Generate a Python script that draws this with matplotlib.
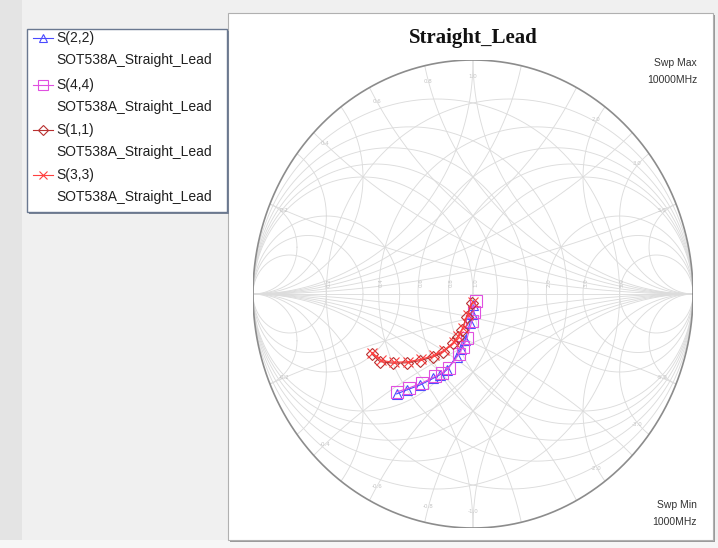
import numpy as np
import matplotlib.pyplot as plt
from matplotlib.patches import Rectangle, Circle

# ---- data (reflection coefficient, real / imag) ----
trace_names = ['S(2,2)', 'S(4,4)', 'S(1,1)', 'S(3,3)']
source_name = 'SOT538A_Straight_Lead'

s22_re = [0.001, -0.006, -0.014, -0.036, -0.055, -0.074, -0.120, -0.150, -0.180, -0.241, -0.301, -0.347]
s22_im = [-0.047, -0.086, -0.125, -0.197, -0.235, -0.268, -0.325, -0.345, -0.360, -0.389, -0.410, -0.427]

s44_re = [0.012, 0.004, -0.004, -0.026, -0.045, -0.064, -0.110, -0.140, -0.172, -0.232, -0.292, -0.345]
s44_im = [-0.030, -0.075, -0.114, -0.186, -0.226, -0.258, -0.315, -0.336, -0.352, -0.380, -0.402, -0.418]

s11_re = [-0.006, -0.029, -0.051, -0.070, -0.090, -0.135, -0.180, -0.241, -0.301, -0.362, -0.423, -0.460]
s11_im = [-0.040, -0.097, -0.154, -0.185, -0.211, -0.247, -0.268, -0.285, -0.294, -0.296, -0.289, -0.256]

s33_re = [-0.002, -0.024, -0.046, -0.066, -0.086, -0.130, -0.176, -0.236, -0.296, -0.357, -0.418, -0.458]
s33_im = [-0.034, -0.090, -0.146, -0.178, -0.204, -0.240, -0.262, -0.279, -0.289, -0.292, -0.284, -0.250]

grid_vals = [0.2, 0.4, 0.6, 0.8, 1.0, 2.0, 3.0, 5.0]

W, H = 718, 548
fig = plt.figure(figsize=(W / 100, H / 100), dpi=100)
fig.patch.set_facecolor('#f0f0f0')

# background / panels, drawn in pixel coordinates
bg = fig.add_axes([0, 0, 1, 1])
bg.set_xlim(0, W)
bg.set_ylim(H, 0)
bg.axis('off')
bg.add_patch(Rectangle((0, 0), 22, 540, facecolor='#e4e4e4', edgecolor='none'))
bg.add_patch(Rectangle((0, 540), W, 8, facecolor='#f6f6f6', edgecolor='none'))
bg.add_patch(Rectangle((230, 15), 485, 527, facecolor='#9a9a9a', edgecolor='none'))
bg.add_patch(Rectangle((228, 13), 485, 527, facecolor='white', edgecolor='#b0b0b0', lw=0.8))

# legend box
bg.add_patch(Rectangle((29, 31), 200, 183, facecolor='#7a8496', edgecolor='none'))
bg.add_patch(Rectangle((27, 29), 200, 183, facecolor='white', edgecolor='#6a7890', lw=1.0))

colors = ['#4a4aff', '#e050e0', '#b83030', '#ff4040']
markers = ['^', 's', 'D', 'x']
msizes = [6, 7, 5, 6]
row1 = [38, 85, 130, 175]
row2 = [60, 107, 152, 197]
for i, name in enumerate(trace_names):
    bg.plot([33, 53], [row1[i], row1[i]], color=colors[i], lw=0.8)
    bg.plot([43], [row1[i]], marker=markers[i], ms=msizes[i], mfc='none',
            mec=colors[i], mew=0.8)
    bg.text(56, row1[i], name, fontsize=10, family='Liberation Sans',
            color='#202020', va='center')
    bg.text(56, row2[i], source_name, fontsize=10, family='Liberation Sans',
            color='#202020', va='center')

bg.text(473, 38, 'Straight_Lead', fontsize=15, weight='bold',
        family='Liberation Serif', ha='center', va='center', color='#111111')
bg.text(697, 63, 'Swp Max', fontsize=7.5, family='Liberation Sans', ha='right', va='center', color='#333333')
bg.text(697, 80, '10000MHz', fontsize=7.5, family='Liberation Sans', ha='right', va='center', color='#333333')
bg.text(697, 505, 'Swp Min', fontsize=7.5, family='Liberation Sans', ha='right', va='center', color='#333333')
bg.text(697, 522, '1000MHz', fontsize=7.5, family='Liberation Sans', ha='right', va='center', color='#333333')

# smith chart (Z and Y grids)
sm = fig.add_axes([253 / W, 1 - 528 / H, 440 / W, 468 / H])
sm.set_xlim(-1, 1)
sm.set_ylim(-1, 1)
sm.axis('off')

clip = Circle((0, 0), 1, transform=sm.transData, facecolor='none', edgecolor='none')
sm.add_patch(clip)
t = np.linspace(0, 2 * np.pi, 3000)
gc = '#dcdcdc'

def arc(cx, cy, r):
    ln, = sm.plot(cx + r * np.cos(t), cy + r * np.sin(t), color=gc, lw=0.65, zorder=1)
    ln.set_clip_path(clip)

for v in grid_vals:
    arc(v / (1 + v), 0, 1 / (1 + v))
    arc(1, 1 / v, 1 / v)
    arc(1, -1 / v, 1 / v)
    arc(-v / (1 + v), 0, 1 / (1 + v))
    arc(-1, 1 / v, 1 / v)
    arc(-1, -1 / v, 1 / v)
sm.plot([-1, 1], [0, 0], color=gc, lw=0.65, zorder=1)
sm.plot(np.cos(t), np.sin(t), color='#8c8c8c', lw=1.2, zorder=2)

# faint grid labels
for v in grid_vals:
    g = (v - 1) / (v + 1)
    sm.text(g + 0.012, 0.03, f'{v:.1f}', fontsize=4, color='#c4c4c4', rotation=90,
            ha='center', va='bottom')
    ang = np.angle((1j * v - 1) / (1j * v + 1))
    for s in (1, -1):
        sm.text(0.93 * np.cos(s * ang), 0.93 * np.sin(s * ang), f'{s * v:.1f}',
                fontsize=4, color='#c4c4c4', ha='center', va='center')

series = [(s22_re, s22_im), (s44_re, s44_im), (s11_re, s11_im), (s33_re, s33_im)]
for i, (re, im) in enumerate(series):
    sm.plot(re, im, color=colors[i], lw=0.8, marker=markers[i], ms=msizes[i] + 1,
            mfc='none', mec=colors[i], mew=0.8, zorder=3)

fig.savefig('out.png', dpi=100, facecolor=fig.get_facecolor())
